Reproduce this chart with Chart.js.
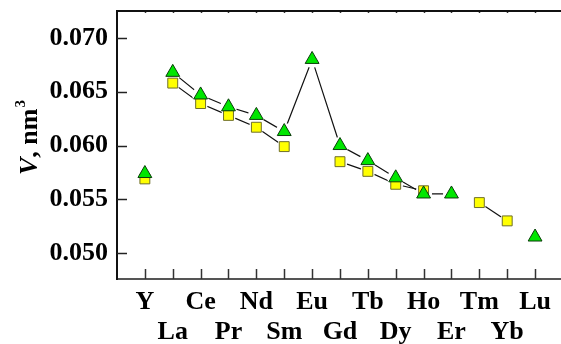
<!DOCTYPE html>
<html>
<head>
<meta charset="utf-8">
<script src="https://cdn.jsdelivr.net/npm/chart.js@4/dist/chart.umd.min.js"></script>
<style>
  body { margin: 0; background: #fff; }
  #wrap { width: 561px; height: 344px; }
</style>
</head>
<body>
<div id="wrap"><canvas id="myChart" width="561" height="344"></canvas></div>
<script>
'use strict';

// data
const elements = ['Y', 'La', 'Ce', 'Pr', 'Nd', 'Sm', 'Eu', 'Gd', 'Tb', 'Dy', 'Ho', 'Er', 'Tm', 'Yb', 'Lu'];
const squareV = [0.0569, 0.0658, 0.0639, 0.0628, 0.0617, 0.0599, null, 0.0585, 0.0576, 0.0564, 0.0558, null, 0.0547, 0.0530, null];
const triangleV = [0.0574, 0.0668, 0.0647, 0.0636, 0.0628, 0.0613, 0.0680, 0.0600, 0.0586, 0.0570, 0.0555, 0.0555, null, null, 0.0515];
const yTicks = [0.050, 0.055, 0.060, 0.065, 0.070];

const font = 'Liberation Serif';

function toPts(arr) {
  return arr.map((v, i) => ({ x: i, y: v }));
}

// no line from Y to La
const skipY = {
  borderColor: ctx => (ctx.p0DataIndex === 0 ? 'rgba(0,0,0,0)' : '#111')
};

// inward tick marks, top frame line and y title
const extras = {
  id: 'extras',
  afterDraw(chart) {
    const c = chart.ctx;
    const a = chart.chartArea;
    const xs = chart.scales.x;
    const ys = chart.scales.y;
    c.save();
    c.strokeStyle = '#222';
    c.lineWidth = 1.5;
    yTicks.forEach(v => {
      const py = Math.round(ys.getPixelForValue(v)) + 0.5;
      c.beginPath();
      c.moveTo(a.left, py);
      c.lineTo(a.left + 10, py);
      c.stroke();
    });
    c.strokeStyle = '#333';
    elements.forEach((e, i) => {
      const px = Math.round(xs.getPixelForValue(i)) + 0.5;
      c.beginPath();
      c.moveTo(px, a.bottom);
      c.lineTo(px, a.bottom - 10);
      c.stroke();
      c.beginPath();
      c.moveTo(px, a.top);
      c.lineTo(px, a.top + 2);
      c.stroke();
    });
    c.strokeStyle = '#111';
    c.lineWidth = 2;
    c.beginPath();
    c.moveTo(a.left, a.top);
    c.lineTo(a.right, a.top);
    c.stroke();

    // y title: V, nm³
    c.fillStyle = '#000';
    c.translate(37, 138);
    c.rotate(-Math.PI / 2);
    c.textBaseline = 'alphabetic';
    const f1 = 'italic bold 26px "' + font + '"';
    const f2 = 'bold 26px "' + font + '"';
    const f3 = 'bold 15px "' + font + '"';
    c.font = f1; const w1 = c.measureText('V').width;
    c.font = f2; const w2 = c.measureText(', nm').width;
    c.font = f3; const w3 = c.measureText('3').width;
    let x = -(w1 + w2 + w3) / 2;
    c.font = f1; c.fillText('V', x, 0); x += w1;
    c.font = f2; c.fillText(', nm', x, 0); x += w2;
    c.font = f3; c.fillText('3', x + 1, -12);
    c.restore();
  }
};

const ctx = document.getElementById('myChart').getContext('2d');
const myChart = new Chart(ctx, { //eslint-disable-line
  type: 'line',
  data: {
    datasets: [
      { data: toPts(squareV), borderColor: '#111', borderWidth: 1.2, pointRadius: 0, spanGaps: false, segment: skipY, order: 5 },
      { data: toPts(triangleV), borderColor: '#111', borderWidth: 1.2, pointRadius: 0, spanGaps: false, segment: skipY, order: 5 },
      { data: toPts(squareV), showLine: false, pointStyle: 'circle', pointRadius: 7.5, pointBorderWidth: 0, pointBackgroundColor: '#fff', order: 3 },
      { data: toPts(triangleV), showLine: false, pointStyle: 'circle', pointRadius: 8.5, pointBorderWidth: 0, pointBackgroundColor: '#fff', order: 3 },
      { data: toPts(squareV), showLine: false, pointStyle: 'rect', pointRadius: 7, pointBorderWidth: 1, pointBackgroundColor: '#ffff00', pointBorderColor: '#6e6e2a', order: 2 },
      { data: toPts(triangleV), showLine: false, pointStyle: 'triangle', pointRadius: 8, pointBorderWidth: 1, pointBackgroundColor: '#00e600', pointBorderColor: '#0b3d0b', order: 1 }
    ]
  },
  options: {
    responsive: false,
    animation: false,
    layout: { autoPadding: false, padding: { top: 11, right: 0, left: 0, bottom: 0 } },
    plugins: { legend: { display: false }, tooltip: { enabled: false } },
    scales: {
      x: {
        type: 'linear',
        min: -1,
        max: 14.93,
        afterBuildTicks: s => { s.ticks = elements.map((e, i) => ({ value: i })); },
        afterFit: s => { s.height = 65; s.paddingLeft = 0; s.paddingRight = 0; },
        grid: { display: true, drawOnChartArea: false, drawTicks: false },
        border: { display: true, color: '#555', width: 2 },
        ticks: {
          autoSkip: false,
          maxRotation: 0,
          padding: 8,
          color: '#000',
          font: { family: font, size: 26, weight: 'bold', lineHeight: 1.15 },
          callback: v => (v % 2 === 0 ? [elements[v], ''] : ['', elements[v]])
        }
      },
      y: {
        min: 0.0476,
        max: 0.0725,
        afterBuildTicks: s => { s.ticks = yTicks.map(v => ({ value: v })); },
        afterFit: s => { s.width = 117; s.paddingTop = 0; s.paddingBottom = 0; },
        grid: { display: true, drawOnChartArea: false, drawTicks: false },
        border: { display: true, color: '#111', width: 2 },
        ticks: {
          padding: 9,
          color: '#000',
          font: { family: font, size: 26, weight: 'bold' },
          callback: v => v.toFixed(3)
        }
      }
    }
  },
  plugins: [extras]
});
</script>
</body>
</html>
